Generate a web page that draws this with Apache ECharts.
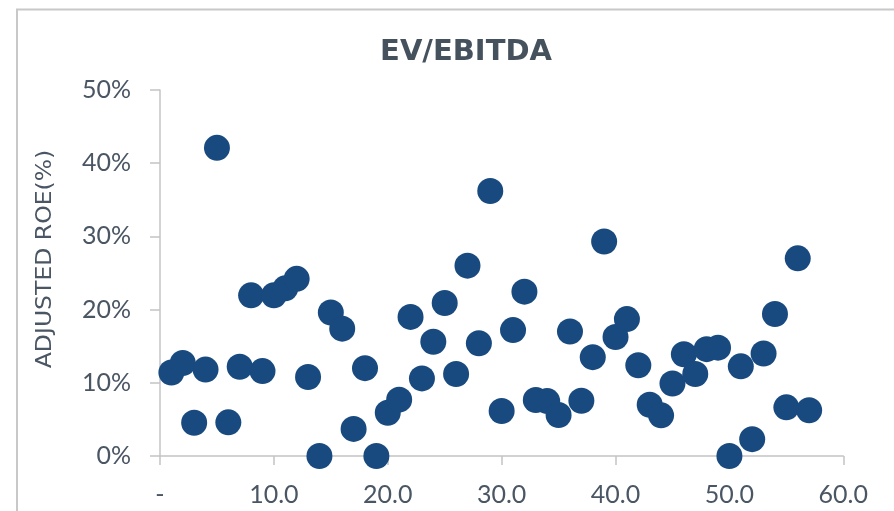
<!DOCTYPE html>
<html>
<head>
<meta charset="utf-8">
<script src="https://cdn.jsdelivr.net/npm/echarts@6/dist/echarts.min.js"></script>
<style>html,body{margin:0;padding:0;background:#fff;}#c{width:894px;height:511px;}</style>
</head>
<body>
<div id="c"></div>
<script>
const titleText = 'EV/EBITDA';
const yAxisTitle = 'ADJUSTED ROE(%)';
const evEbitda = [1,2,3,4,5,6,7,8,9,10,11,12,13,14,15,16,17,18,19,20,21,22,23,24,25,26,27,28,29,30,31,32,33,34,35,36,37,38,39,40,41,42,43,44,45,46,47,48,49,50,51,52,53,54,55,56,57];
const adjustedRoe = [11.4,12.7,4.55,11.8,42.1,4.6,12.2,21.95,11.6,21.95,22.9,24.2,10.8,0,19.6,17.4,3.7,12.0,0,5.9,7.7,19.0,10.6,15.6,20.9,11.2,26.0,15.4,36.2,6.15,17.2,22.45,7.65,7.5,5.6,17.0,7.55,13.5,29.3,16.25,18.7,12.4,7.0,5.55,9.9,13.9,11.2,14.6,14.8,0,12.25,2.3,14.0,19.4,6.65,27.0,6.25];
const xTicks = [0,10,20,30,40,50,60];
const yTicks = [0,10,20,30,40,50];

const points = evEbitda.map((x, i) => [x, adjustedRoe[i]]);
const textColor = '#4a5663';
const axisColor = '#c4c4c4';

const chart = echarts.init(document.getElementById('c'), null, {renderer: 'canvas'});
chart.setOption({
  animation: false,
  backgroundColor: '#ffffff',
  graphic: [
    {type: 'rect', shape: {x: 17, y: 9.5, width: 1000, height: 1000}, style: {fill: 'none', stroke: '#c8c8c8', lineWidth: 2}, z: -1},
    {type: 'text', x: 466, y: 52, scaleX: 1.0,
     style: {text: titleText, fontFamily: 'DejaVu Sans', fontSize: 29, fontWeight: 'bold', fill: '#45525e', align: 'center', verticalAlign: 'middle'}},
    {type: 'text', x: 46, y: 259, rotation: Math.PI / 2, scaleX: 1.12,
     style: {text: yAxisTitle, fontFamily: 'DejaVu Sans', fontSize: 21, fill: textColor, align: 'center', verticalAlign: 'middle'}}
  ],
  grid: {left: 160, right: 50.7, top: 90, bottom: 55, containLabel: false},
  xAxis: {
    type: 'value', min: xTicks[0], max: xTicks[xTicks.length - 1], interval: 10,
    axisLine: {show: true, onZero: false, lineStyle: {color: axisColor, width: 1.5}},
    axisTick: {show: true, length: 9, lineStyle: {color: axisColor, width: 1.5}},
    splitLine: {show: false},
    axisLabel: {
      margin: 26, color: textColor, fontFamily: 'Lato', fontSize: 25,
      formatter: v => v === 0 ? '-' : v.toFixed(1)
    }
  },
  yAxis: {
    type: 'value', min: yTicks[0], max: yTicks[yTicks.length - 1], interval: 10,
    axisLine: {show: true, lineStyle: {color: axisColor, width: 1.5}},
    axisTick: {show: true, length: 10, lineStyle: {color: axisColor, width: 1.5}},
    splitLine: {show: false},
    axisLabel: {margin: 29, color: textColor, fontFamily: 'Lato', fontSize: 25, formatter: v => v + '%'}
  },
  series: [{
    type: 'scatter',
    data: points,
    symbolSize: 26,
    itemStyle: {color: '#184a7f', opacity: 1},
    clip: false
  }]
});
</script>
</body>
</html>
